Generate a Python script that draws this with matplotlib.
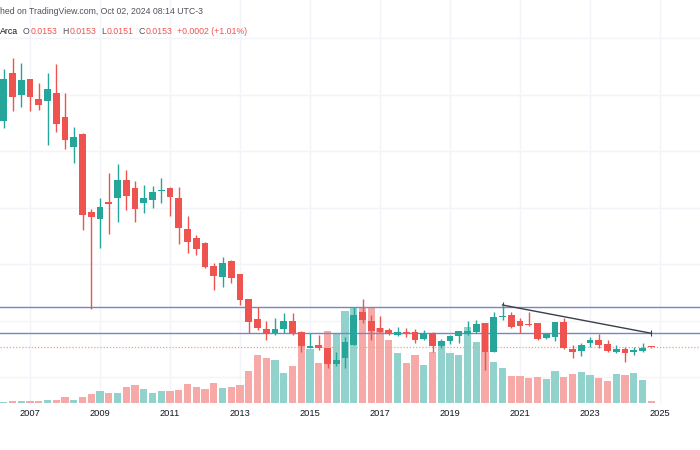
import matplotlib
matplotlib.use('Agg')
import matplotlib.pyplot as plt
import numpy as np
import pandas as pd

# quarterly candles, 2006Q2 .. 2024Q4
quarters = pd.period_range('2006Q2', '2024Q4', freq='Q')

opens = [0.05536, 0.06386, 0.05991,
         0.06269, 0.05915, 0.05885, 0.06032,
         0.05596, 0.05076, 0.05296, 0.03920,
         0.03791, 0.04103, 0.04163, 0.04487,
         0.04350, 0.04074, 0.04133, 0.04297,
         0.04350, 0.04177, 0.03614, 0.03455,
         0.03377, 0.02965, 0.02775, 0.03058,
         0.02818, 0.02372, 0.02027, 0.01844,
         0.01773, 0.01850, 0.01996, 0.01802,
         0.01513, 0.01566, 0.01519, 0.01230,
         0.01331, 0.01566, 0.02156, 0.01996,
         0.01862, 0.01832, 0.01743, 0.01791,
         0.01802, 0.01667, 0.01773, 0.01549,
         0.01642, 0.01731, 0.01758, 0.01802,
         0.01950, 0.01448, 0.02057, 0.02092,
         0.01991, 0.01943, 0.01950, 0.01685,
         0.01713, 0.01973, 0.01496, 0.01465,
         0.01607, 0.01655, 0.01584, 0.01437,
         0.01501, 0.01448, 0.01465, 0.01532]
highs = [0.06446, 0.06641, 0.06552,
         0.06274, 0.06209, 0.06375, 0.06535,
         0.06032, 0.05430, 0.05310, 0.03968,
         0.04163, 0.04619, 0.04766, 0.04669,
         0.04469, 0.04398, 0.04389, 0.04531,
         0.04363, 0.04359, 0.03850, 0.03513,
         0.03381, 0.03012, 0.03119, 0.03062,
         0.02822, 0.02376, 0.02244, 0.01991,
         0.02039, 0.02127, 0.02127, 0.01806,
         0.01773, 0.01743, 0.01522, 0.01437,
         0.01703, 0.02244, 0.02375, 0.02097,
         0.02080, 0.01862, 0.01890, 0.01873,
         0.01844, 0.01832, 0.01802, 0.01673,
         0.01743, 0.01814, 0.01991, 0.02009,
         0.01954, 0.02145, 0.02274, 0.02156,
         0.02039, 0.02145, 0.01954, 0.01784,
         0.01982, 0.02039, 0.01566, 0.01596,
         0.01713, 0.01761, 0.01655, 0.01566,
         0.01536, 0.01526, 0.01607, 0.01533]
lows = [0.05402, 0.05708, 0.05784,
        0.05713, 0.05726, 0.05106, 0.05342,
        0.05030, 0.04782, 0.03602, 0.02198,
        0.03289, 0.03526, 0.03749, 0.03950,
        0.03749, 0.03903, 0.03996, 0.04071,
        0.03855, 0.03354, 0.03200, 0.03159,
        0.02924, 0.02540, 0.02588, 0.02658,
        0.02274, 0.01784, 0.01832, 0.01655,
        0.01743, 0.01773, 0.01743, 0.01448,
        0.01508, 0.01478, 0.01154, 0.01195,
        0.01154, 0.01562, 0.01950, 0.01655,
        0.01773, 0.01743, 0.01726, 0.01713,
        0.01596, 0.01655, 0.01448, 0.01508,
        0.01584, 0.01596, 0.01743, 0.01773,
        0.01124, 0.01444, 0.02009, 0.01862,
        0.01784, 0.01908, 0.01655, 0.01667,
        0.01642, 0.01500, 0.01331, 0.01377,
        0.01536, 0.01508, 0.01437, 0.01419,
        0.01271, 0.01389, 0.01448, 0.01512]
closes = [0.06269, 0.05950, 0.06257,
          0.05950, 0.05814, 0.06092, 0.05478,
          0.05195, 0.05242, 0.03867, 0.03837,
          0.04004, 0.04067, 0.04487, 0.04204,
          0.03982, 0.04177, 0.04278, 0.04310,
          0.04186, 0.03632, 0.03395, 0.03265,
          0.02952, 0.02793, 0.03023, 0.02758,
          0.02363, 0.01979, 0.01873, 0.01756,
          0.01844, 0.01991, 0.01773, 0.01549,
          0.01549, 0.01513, 0.01225, 0.01301,
          0.01625, 0.02097, 0.02009, 0.01814,
          0.01791, 0.01761, 0.01796, 0.01773,
          0.01655, 0.01784, 0.01549, 0.01637,
          0.01731, 0.01814, 0.01818, 0.01933,
          0.01448, 0.02067, 0.02085, 0.01890,
          0.01908, 0.01926, 0.01667, 0.01756,
          0.01979, 0.01508, 0.01437, 0.01566,
          0.01655, 0.01566, 0.01460, 0.01501,
          0.01419, 0.01478, 0.01519, 0.01530]
# volume, millions
volumes = [0.8, 1.2, 1.5,
           1.8, 1.8, 2.8, 2.8,
           5.2, 2.8, 5.8, 8.5,
           11.5, 9.2, 9.8, 15.8,
           17.5, 13.8, 9.8, 11.8,
           11.2, 12.5, 18.5, 15.2,
           13.8, 19.2, 14.2, 15.2,
           17.5, 31.5, 47.2, 44.2,
           42.5, 29.8, 36.5, 70.8,
           53.5, 39.2, 71.5, 69.2,
           91.8, 94.5, 96.0, 95.2,
           74.2, 62.5, 49.2, 39.2,
           47.5, 37.5, 50.8, 57.0,
           49.8, 47.5, 76.0, 60.8,
           79.2, 40.5, 34.8, 26.8,
           26.5, 24.2, 25.2, 23.5,
           31.5, 25.8, 28.5, 30.8,
           27.5, 24.2, 21.5, 28.5,
           27.5, 29.2, 22.5, 1.5]

levels = [0.02234, 0.01774]
trend_q = ['2020Q3', '2024Q4']
trend_p = [0.02274, 0.01774]
last_price = 0.0153

year_ticks = list(range(2007, 2026, 2))
price_grid = [0.01, 0.02, 0.03, 0.04, 0.05, 0.06, 0.07]

UP, DOWN = '#26a69a', '#ef5350'
UP_VOL, DOWN_VOL = '#92d2cc', '#f7a9a7'


def qx(q):
    return q.year + (q.quarter - 1) / 4


x = np.array([qx(q) for q in quarters])
o, h, l, c = map(np.array, (opens, highs, lows, closes))
up = c >= o

fig = plt.figure(figsize=(7, 4.5), dpi=100)
rect = [0, 47.5 / 450, 1, 402.5 / 450]
xlim = (2007 - 30 / 35, 2007 + 670 / 35)
ylim = (0.005487, 0.076726)

# background grid
ax_bg = fig.add_axes(rect)
ax_bg.set_xlim(*xlim)
ax_bg.set_ylim(*ylim)
for yr in year_ticks:
    ax_bg.axvline(yr, color='#f2f4f9', lw=1)
for p in price_grid:
    ax_bg.axhline(p, color='#f2f4f9', lw=1)
ax_bg.axis('off')

# volume
ax_v = fig.add_axes(rect)
ax_v.patch.set_visible(False)
ax_v.bar(x, volumes, width=0.21, color=np.where(up, UP_VOL, DOWN_VOL), linewidth=0)
ax_v.set_xlim(*xlim)
ax_v.set_ylim(0, 402.5)
ax_v.axis('off')

# price
ax = fig.add_axes(rect)
ax.patch.set_visible(False)
ax.set_xlim(*xlim)
ax.set_ylim(*ylim)

for lv in levels:
    ax.axhline(lv, color='#7489c4', lw=1, zorder=2)
ax.axhline(last_price, color='#f0a27f', lw=0.9, ls=(0, (1, 1.5)), zorder=2)

tx = [qx(pd.Period(q, freq='Q')) for q in trend_q]
ax.plot(tx, trend_p, color='#3b3f4a', lw=1, zorder=3)
ax.plot(tx, trend_p, ls='none', marker='|', ms=4, mew=0.8, color='#3b3f4a', zorder=3)

colors = np.where(up, UP, DOWN)
ax.vlines(x, l, h, colors=colors, lw=1, zorder=4)
body_lo = np.minimum(o, c)
body_h = np.maximum(np.abs(c - o), 0.00012)
ax.bar(x, body_h, bottom=body_lo, width=0.186, color=colors, linewidth=0, zorder=5)

ax.set_xticks(year_ticks)
ax.set_xticklabels([str(y) for y in year_ticks])
ax.set_yticks([])
ax.tick_params(axis='x', length=0, pad=5, labelsize=6.7, labelcolor='#131722')
for lab in ax.get_xticklabels():
    lab.set_family('Liberation Sans')
for s in ax.spines.values():
    s.set_visible(False)

# header
font = dict(family='Liberation Sans', fontsize=6.3)
fig.text(0.0, 1 - 11 / 450, 'hed on TradingView.com, Oct 02, 2024 08:14 UTC-3',
         color='#50535e', va='center', ha='left', **font)
parts = [('Arca', '#131722', 0), ('O', '#50535e', 3.5), ('0.0153', DOWN, 0.5),
         ('H', '#50535e', 3.5), ('0.0153', DOWN, 0.5), ('L', '#50535e', 3.5),
         ('0.0151', DOWN, 0.5), ('C', '#50535e', 3.5), ('0.0153', DOWN, 0.5),
         ('+0.0002 (+1.01%)', DOWN, 3.5)]
prev = fig.text(0.0, 1 - 31 / 450, parts[0][0], color=parts[0][1],
                va='center', ha='left', **font)
for s, col, gap in parts[1:]:
    prev = ax.annotate(s, xy=(1, 0.5), xycoords=prev, xytext=(gap, 0),
                       textcoords='offset points', va='center', ha='left',
                       color=col, annotation_clip=False, **font)

fig.savefig('out.png', dpi=100)
